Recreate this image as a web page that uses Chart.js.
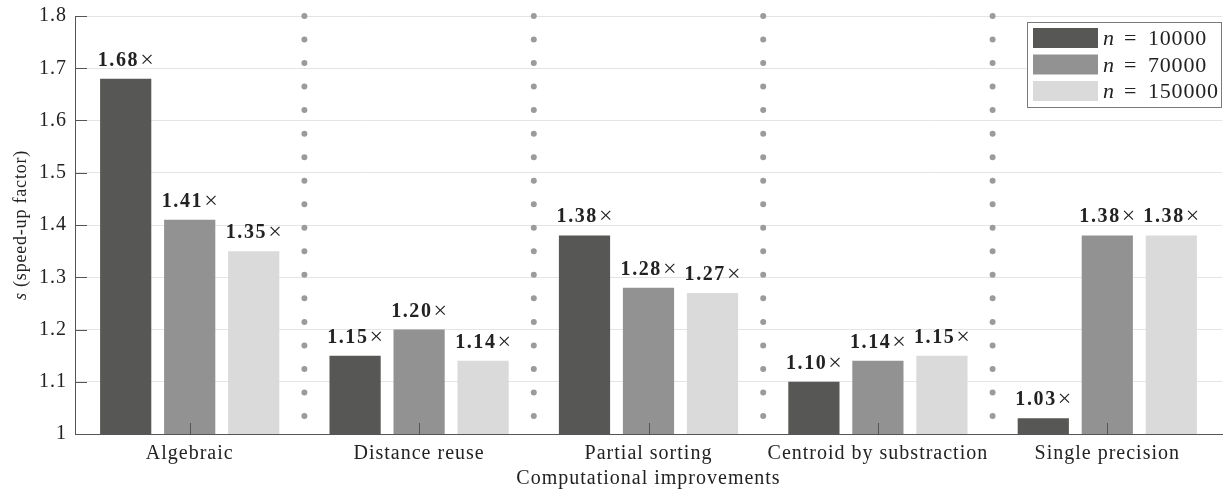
<!DOCTYPE html>
<html>
<head>
<meta charset="utf-8">
<title>Speed-up factor per computational improvement</title>
<script src="https://cdn.jsdelivr.net/npm/chart.js@4.4.1/dist/chart.umd.min.js"></script>
<style>
  html, body { margin: 0; padding: 0; background: #ffffff; }
  #wrap { width: 1224px; height: 489px; }
  canvas { display: block; }
</style>
</head>
<body>
<div id="wrap"><canvas id="chart" width="1224" height="489"></canvas></div>
<script>
// Improvements benchmarked and the speed-up each one gives, per problem size n.
const categories = ['Algebraic', 'Distance reuse', 'Partial sorting', 'Centroid by substraction', 'Single precision'];
const problemSizes = [10000, 70000, 150000];
const speedup10000 = [1.68, 1.15, 1.38, 1.10, 1.03];
const speedup70000 = [1.41, 1.20, 1.28, 1.14, 1.38];
const speedup150000 = [1.35, 1.14, 1.27, 1.15, 1.38];
const yTickValues = [1, 1.1, 1.2, 1.3, 1.4, 1.5, 1.6, 1.7, 1.8];

const seriesColors = ['#575755', '#919291', '#d9dad9'];
const SERIF = '"Liberation Serif", "DejaVu Serif", serif';
const AXIS_COLOR = '#555555';
const TEXT_COLOR = '#222222';

// Slightly wider text tracking for every label on the canvas.
const spacingPlugin = {
  id: 'spacing',
  beforeDraw(chart) { chart.ctx.letterSpacing = '1px'; }
};

// Gray dotted separators between the category groups.
const separatorPlugin = {
  id: 'separators',
  beforeDatasetsDraw(chart) {
    const { ctx, scales } = chart;
    const x = scales.x, y = scales.y;
    const yTop = y.getPixelForValue(1.8);
    const yBot = y.getPixelForValue(1.0);
    ctx.save();
    ctx.strokeStyle = '#9b9b9b';
    ctx.lineWidth = 6;
    ctx.lineCap = 'round';
    ctx.setLineDash([0, 23.53]);
    for (let i = 0; i < categories.length - 1; i++) {
      const xs = (x.getPixelForValue(i) + x.getPixelForValue(i + 1)) / 2;
      ctx.beginPath();
      ctx.moveTo(xs, yTop);
      ctx.lineTo(xs, yBot);
      ctx.stroke();
    }
    ctx.restore();
  }
};

// Inward tick marks, value labels above each bar, the boxed legend
// and the y-axis title with its italic symbol.
const annotatePlugin = {
  id: 'annotate',
  afterDatasetsDraw(chart) {
    const { ctx, chartArea, scales } = chart;
    const x = scales.x, y = scales.y;
    ctx.save();
    // ticks pointing into the plot
    ctx.strokeStyle = AXIS_COLOR;
    ctx.lineWidth = 1;
    yTickValues.forEach(v => {
      const py = Math.round(y.getPixelForValue(v)) + 0.5;
      ctx.beginPath();
      ctx.moveTo(chartArea.left, py);
      ctx.lineTo(chartArea.left + 12, py);
      ctx.stroke();
    });
    categories.forEach((c, i) => {
      const px = Math.round(x.getPixelForValue(i)) + 0.5;
      ctx.beginPath();
      ctx.moveTo(px, chartArea.bottom);
      ctx.lineTo(px, chartArea.bottom - 11);
      ctx.stroke();
    });

    // value labels: bold number followed by a regular times sign
    ctx.fillStyle = TEXT_COLOR;
    ctx.textBaseline = 'alphabetic';
    ctx.textAlign = 'left';
    chart.data.datasets.forEach((ds, di) => {
      const meta = chart.getDatasetMeta(di);
      meta.data.forEach((bar, i) => {
        const num = ds.data[i].toFixed(2);
        ctx.letterSpacing = '1.6px';
        ctx.font = 'bold 20px ' + SERIF;
        const wNum = ctx.measureText(num).width;
        ctx.letterSpacing = '0px';
        ctx.font = '24px ' + SERIF;
        const wX = ctx.measureText('\u00d7').width;
        const gap = 1;
        const left = bar.x - (wNum + gap + wX) / 2;
        const base = bar.y - 13;
        ctx.letterSpacing = '1.6px';
        ctx.font = 'bold 20px ' + SERIF;
        ctx.fillText(num, left, base);
        ctx.letterSpacing = '0px';
        ctx.font = '24px ' + SERIF;
        ctx.fillText('\u00d7', left + wNum + gap, base + 1);
      });
    });

    // legend box in the upper right corner
    const bx = 1027.5, by = 22.5, bw = 194, bh = 85;
    ctx.fillStyle = '#ffffff';
    ctx.fillRect(bx, by, bw, bh);
    ctx.strokeStyle = '#7a7a7a';
    ctx.strokeRect(bx, by, bw, bh);
    const rowTops = [28, 54.5, 81];
    chart.data.datasets.forEach((ds, di) => {
      const top = rowTops[di];
      const base = top + 17;
      ctx.fillStyle = ds.backgroundColor;
      ctx.fillRect(1033, top, 65, 20);
      ctx.fillStyle = TEXT_COLOR;
      ctx.letterSpacing = '0.8px';
      ctx.font = 'italic 22px ' + SERIF;
      ctx.fillText('n', 1103, base);
      ctx.font = '22px ' + SERIF;
      ctx.fillText('=', 1124, base);
      ctx.fillText(String(problemSizes[di]), 1148, base);
    });

    // y-axis title, rotated, with an italic "s"
    ctx.save();
    ctx.translate(26, (chartArea.top + chartArea.bottom) / 2);
    ctx.rotate(-Math.PI / 2);
    ctx.letterSpacing = '0.8px';
    ctx.font = 'italic 18px ' + SERIF;
    const sW = ctx.measureText('s').width;
    ctx.font = '18px ' + SERIF;
    const rest = ' (speed-up factor)';
    const rW = ctx.measureText(rest).width;
    const start = -(sW + rW) / 2;
    ctx.font = 'italic 18px ' + SERIF;
    ctx.fillText('s', start, 0);
    ctx.font = '18px ' + SERIF;
    ctx.fillText(rest, start + sW, 0);
    ctx.restore();

    ctx.restore();
  }
};

const seriesValues = [speedup10000, speedup70000, speedup150000];

new Chart(document.getElementById('chart'), {
  type: 'bar',
  data: {
    labels: categories,
    datasets: problemSizes.map((n, i) => ({
      label: 'n = ' + n,
      data: seriesValues[i],
      backgroundColor: seriesColors[i],
      borderWidth: 0,
      categoryPercentage: 0.837,
      barPercentage: 0.8
    }))
  },
  options: {
    responsive: false,
    animation: false,
    devicePixelRatio: 1,
    layout: { padding: { top: 16, right: 2, left: 0, bottom: 0 } },
    plugins: {
      legend: { display: false },
      tooltip: { enabled: false }
    },
    scales: {
      x: {
        grid: { display: false, drawTicks: false },
        border: { display: true, color: AXIS_COLOR, width: 1 },
        ticks: { color: TEXT_COLOR, font: { family: SERIF, size: 20 }, padding: 8 },
        title: {
          display: true,
          text: 'Computational improvements',
          color: TEXT_COLOR,
          font: { family: SERIF, size: 20, lineHeight: 1 },
          padding: { top: 0, bottom: 0 }
        },
        afterFit(scale) {
          scale.height = 55;
          scale.paddingLeft = 0;
          scale.paddingRight = 0;
        }
      },
      y: {
        min: 1,
        max: 1.8,
        afterBuildTicks(scale) { scale.ticks = yTickValues.map(v => ({ value: v })); },
        grid: { color: '#e4e4e4', lineWidth: 1, drawTicks: false },
        border: { display: true, color: AXIS_COLOR, width: 1 },
        ticks: {
          color: TEXT_COLOR,
          font: { family: SERIF, size: 20 },
          padding: 8,
          callback: v => String(+v.toFixed(1))
        },
        afterFit(scale) {
          scale.width = 75;
          scale.paddingTop = 0;
          scale.paddingBottom = 0;
        }
      }
    }
  },
  plugins: [spacingPlugin, separatorPlugin, annotatePlugin]
});
</script>
</body>
</html>
